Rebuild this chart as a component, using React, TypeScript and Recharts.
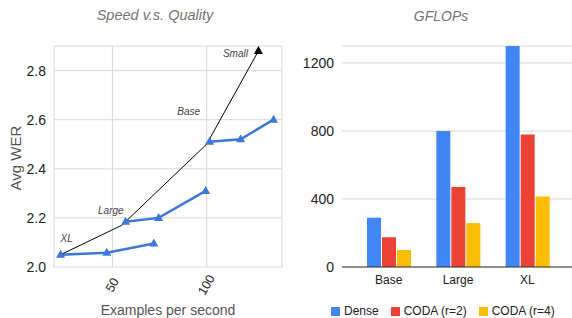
import React from 'react';
import {
  ComposedChart, Line, XAxis, YAxis, CartesianGrid, LabelList,
  BarChart, Bar,
} from 'recharts';

// ---- Speed v.s. Quality data ----
const modelLabels = ['XL', 'Large', 'Base', 'Small'];
const denseSpeed = [22.5, 55, 100, 127.5];
const denseWer = [2.05, 2.17, 2.5, 2.88];
const codaXlSpeed = [22.5, 47, 72];
const codaXlWer = [2.05, 2.058, 2.096];
const codaLargeSpeed = [57, 74.5, 99.5];
const codaLargeWer = [2.184, 2.2, 2.31];
const codaBaseSpeed = [101.5, 118, 135.5];
const codaBaseWer = [2.51, 2.52, 2.6];
const speedTicks = [50, 100];
const werTicks = [2.0, 2.2, 2.4, 2.6, 2.8];

// ---- GFLOPs data ----
const sizes = ['Base', 'Large', 'XL'];
const denseFlops = [290, 800, 1300];
const coda2Flops = [175, 470, 780];
const coda4Flops = [100, 258, 415];
const flopTicks = [0, 400, 800, 1200];

const toPoints = (xs: number[], ys: number[], names?: string[]) =>
  xs.map((x, i) => ({ x, y: ys[i], name: names ? names[i] : '' }));

const densePts = toPoints(denseSpeed, denseWer, modelLabels);
const xlPts = toPoints(codaXlSpeed, codaXlWer);
const largePts = toPoints(codaLargeSpeed, codaLargeWer);
const basePts = toPoints(codaBaseSpeed, codaBaseWer);

const barData = sizes.map((s, i) => ({
  size: s,
  dense: denseFlops[i],
  coda2: coda2Flops[i],
  coda4: coda4Flops[i],
}));

const FONT = '"Liberation Sans", Arial, sans-serif';
const BLUE_LINE = '#3c78d8';
const GRID = '#d9d9d9';

// annotation label offsets (styling)
const labelOffsets = [
  [6, -16],
  [-11, -15],
  [-18, -33],
  [-23, 3],
];

const Tri = (props: any) => {
  const { cx, cy, fill } = props;
  if (cx == null || cy == null) return null;
  return <path d={`M${cx},${cy - 5} L${cx + 4.5},${cy + 3} L${cx - 4.5},${cy + 3} Z`} fill={fill} />;
};

const BlueDot = (props: any) => <Tri {...props} fill={BLUE_LINE} />;

const ArrowDot = (props: any) => {
  const { index } = props;
  if (index !== denseSpeed.length - 1) return <g />;
  return <Tri {...props} fill="#000" />;
};

const AnnotLabel = (props: any) => {
  const { x, y, index, value } = props;
  const [dx, dy] = labelOffsets[index] || [0, 0];
  return (
    <text x={x + dx} y={y + dy} textAnchor="middle" dominantBaseline="central"
      fontSize={10} fontStyle="italic" fill="#444" fontFamily={FONT}>
      {value}
    </text>
  );
};

const RotTick = (props: any) => {
  const { x, y, payload } = props;
  const cy = y + 10;
  return (
    <text x={x} y={cy} transform={`rotate(-60, ${x}, ${cy})`} textAnchor="middle"
      dominantBaseline="central" fontSize={12.5} fill="#222" fontFamily={FONT}>
      {payload.value}
    </text>
  );
};

const legendItems = [
  { name: 'Dense', color: '#4285f4' },
  { name: 'CODA (r=2)', color: '#ea4335' },
  { name: 'CODA (r=4)', color: '#fbbc04' },
];

export default function App() {
  return (
    <div style={{ position: 'absolute', left: 0, top: 0, width: 572, height: 318, background: '#fff', fontFamily: FONT }}>
      {/* Left chart */}
      <div style={{ position: 'absolute', left: 0, top: 0 }}>
        <ComposedChart width={290} height={318} margin={{ top: 46, right: 8, bottom: 0, left: 0 }}>
          <CartesianGrid stroke={GRID} strokeWidth={1} />
          <XAxis type="number" dataKey="x" domain={[19, 140]} ticks={speedTicks} allowDataOverflow
            axisLine={false} tickLine={false} height={51} tick={<RotTick />} interval={0} />
          <YAxis type="number" dataKey="y" domain={[2.0, 2.9]} ticks={werTicks} allowDataOverflow
            axisLine={false} tickLine={false} width={54} interval={0}
            tickFormatter={(v: number) => v.toFixed(1)}
            tick={{ fontSize: 14, fill: '#222', fontFamily: FONT }} />
          <Line data={xlPts} dataKey="y" stroke={BLUE_LINE} strokeWidth={2.5} dot={<BlueDot />} activeDot={false} isAnimationActive={false} />
          <Line data={largePts} dataKey="y" stroke={BLUE_LINE} strokeWidth={2.5} dot={<BlueDot />} activeDot={false} isAnimationActive={false} />
          <Line data={basePts} dataKey="y" stroke={BLUE_LINE} strokeWidth={2.5} dot={<BlueDot />} activeDot={false} isAnimationActive={false} />
          <Line data={densePts} dataKey="y" stroke="#000" strokeWidth={1} dot={<ArrowDot />} activeDot={false} isAnimationActive={false}>
            <LabelList dataKey="name" content={<AnnotLabel />} />
          </Line>
        </ComposedChart>
      </div>
      <div style={{ position: 'absolute', left: 0, top: 7, width: 310, textAlign: 'center', fontSize: 14.5, fontStyle: 'italic', color: '#757575' }}>
        Speed v.s. Quality
      </div>
      <div style={{ position: 'absolute', left: 54, top: 302, width: 228, textAlign: 'center', fontSize: 14, color: '#555' }}>
        Examples per second
      </div>
      <div style={{ position: 'absolute', left: 16, top: 158, width: 0, height: 0 }}>
        <div style={{ position: 'absolute', left: -50, top: -9, width: 100, textAlign: 'center', fontSize: 15, color: '#555', transform: 'rotate(-90deg)', lineHeight: '18px' }}>
          Avg WER
        </div>
      </div>

      {/* Right chart */}
      <div style={{ position: 'absolute', left: 290, top: 0 }}>
        <BarChart width={282} height={318} data={barData} margin={{ top: 46, right: 0, bottom: 0, left: 0 }}
          barCategoryGap={13} barGap={1}>
          <CartesianGrid stroke={GRID} vertical={false} />
          <XAxis dataKey="size" padding={{ left: 12, right: 10 }} height={51} tickLine={false}
            axisLine={{ stroke: '#333' }} tick={{ fontSize: 12, fill: '#222', fontFamily: FONT }} interval={0} />
          <YAxis domain={[0, 1300]} ticks={flopTicks} allowDataOverflow axisLine={false} tickLine={false}
            width={52} interval={0} tick={{ fontSize: 14, fill: '#222', fontFamily: FONT }} />
          <Bar dataKey="dense" fill="#4285f4" isAnimationActive={false} />
          <Bar dataKey="coda2" fill="#ea4335" isAnimationActive={false} />
          <Bar dataKey="coda4" fill="#fbbc04" isAnimationActive={false} />
        </BarChart>
      </div>
      <div style={{ position: 'absolute', left: 290, top: 8, width: 302, textAlign: 'center', fontSize: 14, fontStyle: 'italic', color: '#757575' }}>
        GFLOPs
      </div>
      <div style={{ position: 'absolute', left: 331, top: 304, display: 'flex', gap: 12, fontSize: 12, color: '#222', lineHeight: '15px' }}>
        {legendItems.map((it) => (
          <div key={it.name} style={{ display: 'flex', alignItems: 'center' }}>
            <span style={{ display: 'inline-block', width: 9, height: 9, background: it.color, marginRight: 4 }} />
            <span>{it.name}</span>
          </div>
        ))}
      </div>
    </div>
  );
}
